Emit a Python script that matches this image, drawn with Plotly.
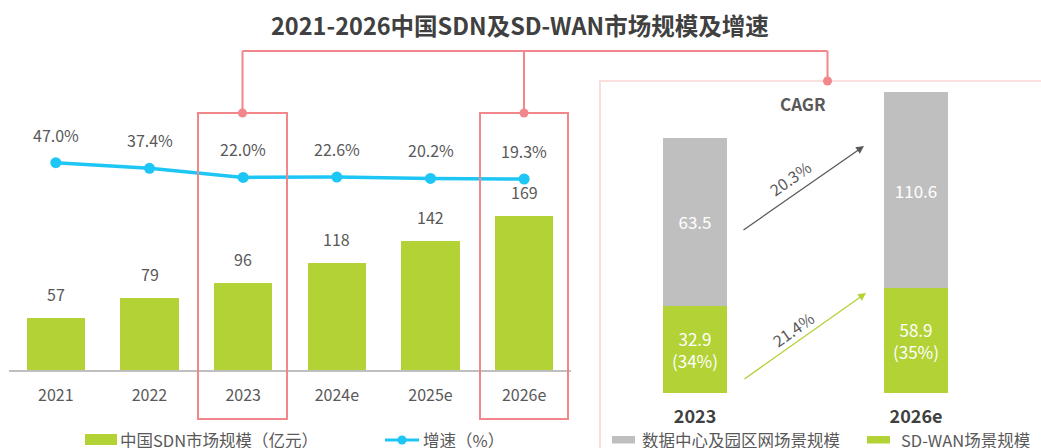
import plotly.graph_objects as go

# ---------------- data ----------------
years = ["2021", "2022", "2023", "2024e", "2025e", "2026e"]
sdn_size = [57, 79, 96, 118, 142, 169]          # 亿元
growth = [47.0, 37.4, 22.0, 22.6, 20.2, 19.3]   # %

split_years = ["2023", "2026e"]
dc_campus = [63.5, 110.6]   # 数据中心及园区网场景规模
sdwan = [32.9, 58.9]        # SD-WAN场景规模

left_names = ["中国SDN市场规模（亿元）", "增速（%）"]
right_names = ["数据中心及园区网场景规模", "SD-WAN场景规模"]
title_text = "2021-2026中国SDN及SD-WAN市场规模及增速"

# ---------------- style ----------------
W, H = 1041, 448
FONT = "Noto Sans CJK SC"
GREEN = "#b2d235"
BLUE = "#1ec6f5"
GRAY = "#bfbfbf"
RED = "#f2878b"
PINK = "#fcdede"
TXT = "#595959"
DARK = "#404040"


def px(x):
    return x / W


def py(y):
    return 1 - y / H


span = 3  # years between 2023 and 2026e
cagr_dc = (dc_campus[1] / dc_campus[0]) ** (1 / span) - 1
cagr_sd = (sdwan[1] / sdwan[0]) ** (1 / span) - 1
totals = [a + b for a, b in zip(dc_campus, sdwan)]

fig = go.Figure()

# left: market size bars
fig.add_trace(go.Bar(x=years, y=sdn_size, marker=dict(color=GREEN, line=dict(width=0)),
                     xaxis="x", yaxis="y", showlegend=False, name=left_names[0]))
# left: growth line
fig.add_trace(go.Scatter(x=years, y=growth, mode="lines+markers", xaxis="x", yaxis="y2",
                         line=dict(color=BLUE, width=3.5), marker=dict(color=BLUE, size=11),
                         showlegend=False, name=left_names[1]))

# right: stacked bars, one subplot per year
for i, yr in enumerate(split_years):
    xa = "x3" if i == 0 else "x4"
    ya = "y3" if i == 0 else "y4"
    fig.add_trace(go.Bar(x=[yr], y=[sdwan[i]], xaxis=xa, yaxis=ya,
                         marker=dict(color=GREEN, line=dict(width=0)),
                         text=[f"{sdwan[i]}<br>({sdwan[i] / totals[i]:.0%})"],
                         textposition="inside", insidetextanchor="middle", textangle=0,
                         textfont=dict(color="white", size=17, family=FONT),
                         showlegend=False, name=right_names[1]))
    fig.add_trace(go.Bar(x=[yr], y=[dc_campus[i]], xaxis=xa, yaxis=ya,
                         marker=dict(color=GRAY, line=dict(width=0)),
                         text=[f"{dc_campus[i]}"],
                         textposition="inside", insidetextanchor="middle", textangle=0,
                         textfont=dict(color="white", size=17, family=FONT),
                         showlegend=False, name=right_names[0]))

annotations = []
# bar value labels (category index on x)
for i, v in enumerate(sdn_size):
    annotations.append(dict(x=i, y=v, xref="x", yref="y", text=str(v), showarrow=False,
                            xanchor="center", yanchor="bottom", yshift=10,
                            font=dict(size=16, color=TXT, family=FONT)))
# growth labels
for i, g in enumerate(growth):
    annotations.append(dict(x=i, y=g, xref="x", yref="y2", text=f"{g:.1f}%", showarrow=False,
                            xanchor="center", yanchor="bottom", yshift=14,
                            font=dict(size=16, color=TXT, family=FONT)))


def note(x, y, text, size, color=TXT, xanchor="center", angle=0):
    return dict(x=px(x), y=py(y), xref="paper", yref="paper", text=text, showarrow=False,
                xanchor=xanchor, yanchor="middle", textangle=angle,
                font=dict(size=size, color=color, family=FONT))


# title
annotations.append(note(520, 25, f"<b>{title_text}</b>", 23.5, DARK))
# CAGR
annotations.append(note(803, 103, "<b>CAGR</b>", 17))
# arrows
annotations.append(dict(x=px(864), y=py(146), xref="paper", yref="paper", text="", showarrow=True,
                        ax=-122, ay=85, arrowhead=2, arrowsize=1.2, arrowwidth=1.3, arrowcolor="#595959",
                        standoff=0))
annotations.append(dict(x=px(866), y=py(293), xref="paper", yref="paper", text="", showarrow=True,
                        ax=-123, ay=87, arrowhead=2, arrowsize=1.2, arrowwidth=1.3, arrowcolor=GREEN,
                        standoff=0))
annotations.append(note(790, 178, f"{cagr_dc:.1%}", 16, angle=-35))
annotations.append(note(793, 329, f"{cagr_sd:.1%}", 16, angle=-35))

# manual legends
annotations.append(note(118, 440, left_names[0], 16.5, xanchor="left"))
annotations.append(note(421, 440, left_names[1], 16.5, xanchor="left"))
annotations.append(note(640, 440, right_names[0], 16.5, xanchor="left"))
annotations.append(note(899, 440, right_names[1], 16.5, xanchor="left"))

shapes = []
# right panel frame
shapes.append(dict(type="rect", xref="paper", yref="paper", x0=px(600), x1=px(1046), y0=py(81), y1=py(455),
                   line=dict(color=PINK, width=2), layer="below"))
# highlight boxes
for x0, x1 in [(198, 287), (480, 568)]:
    shapes.append(dict(type="rect", xref="paper", yref="paper", x0=px(x0), x1=px(x1), y0=py(113), y1=py(419),
                       line=dict(color=RED, width=2)))
# connectors
shapes.append(dict(type="line", xref="paper", yref="paper", x0=px(242.5), x1=px(827.5), y0=py(51), y1=py(51),
                   line=dict(color=RED, width=2)))
for x, yb in [(242.5, 113), (524, 113), (827.5, 81)]:
    shapes.append(dict(type="line", xref="paper", yref="paper", x0=px(x), x1=px(x), y0=py(51), y1=py(yb),
                       line=dict(color=RED, width=2)))
    shapes.append(dict(type="circle", xref="paper", yref="paper", x0=px(x - 4.5), x1=px(x + 4.5),
                       y0=py(yb - 4.5), y1=py(yb + 4.5), fillcolor=RED, line=dict(color=RED, width=0)))
# legend symbols
shapes.append(dict(type="rect", xref="paper", yref="paper", x0=px(85), x1=px(117), y0=py(434), y1=py(445),
                   fillcolor=GREEN, line=dict(width=0)))
shapes.append(dict(type="line", xref="paper", yref="paper", x0=px(385), x1=px(419), y0=py(440), y1=py(440),
                   line=dict(color=BLUE, width=3)))
shapes.append(dict(type="circle", xref="paper", yref="paper", x0=px(397.5), x1=px(406.5), y0=py(435.5),
                   y1=py(444.5), fillcolor=BLUE, line=dict(width=0)))
shapes.append(dict(type="rect", xref="paper", yref="paper", x0=px(612), x1=px(635), y0=py(436), y1=py(443.5),
                   fillcolor=GRAY, line=dict(width=0)))
shapes.append(dict(type="rect", xref="paper", yref="paper", x0=px(867), x1=px(890), y0=py(436), y1=py(443.5),
                   fillcolor=GREEN, line=dict(width=0)))

# axis geometry
base_l, top_l = 370, 100
k_bar = 0.91            # px per 亿元 (left)
g_top_px, g_slope = 162.7, 0.588
g_lo = growth[0] - (base_l - g_top_px) / g_slope
g_hi = growth[0] + (g_top_px - top_l) / g_slope
base_r, top_r = 393.3, 80

tick_common = dict(showgrid=False, zeroline=False, ticks="", type="category")

fig.update_layout(
    width=W, height=H, margin=dict(l=0, r=0, t=0, b=0),
    paper_bgcolor="white", plot_bgcolor="rgba(0,0,0,0)",
    barmode="stack", bargap=0.38,
    font=dict(family=FONT, color=TXT),
    xaxis=dict(domain=[px(9), px(571)], anchor="y", showline=True, linecolor=GRAY, linewidth=1.5,
               range=[-0.5, len(years) - 0.5],
               tickfont=dict(size=16, color=TXT, family=FONT), ticklabelstandoff=10, **tick_common),
    yaxis=dict(domain=[py(base_l), py(top_l)], range=[0, (base_l - top_l) / k_bar], visible=False),
    yaxis2=dict(overlaying="y", anchor="x", range=[g_lo, g_hi], visible=False),
    xaxis3=dict(domain=[px(643.5), px(746.5)], anchor="y3", showline=False,
                tickfont=dict(size=18, color=DARK, family=FONT, weight="bold"), ticklabelstandoff=11,
                **tick_common),
    yaxis3=dict(domain=[py(base_r), py(top_r)], anchor="x3", range=[0, (base_r - top_r) / 2.65], visible=False),
    xaxis4=dict(domain=[px(864.5), px(967.5)], anchor="y4", showline=False,
                tickfont=dict(size=18, color=DARK, family=FONT, weight="bold"), ticklabelstandoff=11,
                **tick_common),
    yaxis4=dict(domain=[py(base_r), py(top_r)], anchor="x4", range=[0, (base_r - top_r) / 1.78], visible=False),
    annotations=annotations, shapes=shapes,
)

fig.write_html("out.html", config={"displayModeBar": False},
               post_script="document.body.style.margin='0';")
